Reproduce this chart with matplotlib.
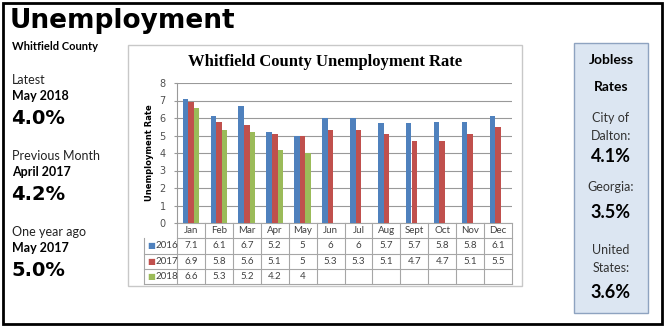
import matplotlib.pyplot as plt
from matplotlib.patches import Rectangle
from matplotlib.transforms import blended_transform_factory
import numpy as np

months = ['Jan', 'Feb', 'Mar', 'Apr', 'May', 'Jun', 'Jul', 'Aug', 'Sept', 'Oct', 'Nov', 'Dec']
years = ['2016', '2017', '2018']
rate_2016 = [7.1, 6.1, 6.7, 5.2, 5, 6, 6, 5.7, 5.7, 5.8, 5.8, 6.1]
rate_2017 = [6.9, 5.8, 5.6, 5.1, 5, 5.3, 5.3, 5.1, 4.7, 4.7, 5.1, 5.5]
rate_2018 = [6.6, 5.3, 5.2, 4.2, 4]
colors = ['#4f81bd', '#c0504d', '#9bbb59']

side_stats = [('Latest', 'May 2018', '4.0%'),
              ('Previous Month', 'April 2017', '4.2%'),
              ('One year ago', 'May 2017', '5.0%')]
jobless = [('City of\nDalton:', '4.1%'), ('Georgia:', '3.5%'), ('United\nStates:', '3.6%')]

W, H = 666, 327


def fx(x):
    return x / W


def fy(y):
    return 1 - y / H


fig = plt.figure(figsize=(W / 100, H / 100), dpi=100)
fig.patch.set_facecolor('white')

# outer frame
fig.patches.append(Rectangle((fx(3), fy(324)), fx(659), (321) / H, transform=fig.transFigure,
                             fill=False, edgecolor='black', linewidth=2))

# left column
fig.text(fx(10), fy(21), 'Unemployment', fontsize=19, fontweight='heavy', family='DejaVu Sans',
         va='center', ha='left')
fig.text(fx(12), fy(47), 'Whitfield County', fontsize=8, fontweight='bold', family='Lato',
         va='center', ha='left')
for i, (lab, period, val) in enumerate(side_stats):
    y0 = 80 + i * 76
    fig.text(fx(12), fy(y0), lab, fontsize=9, family='Lato', color='#222222', va='center')
    fig.text(fx(12), fy(y0 + 16), period, fontsize=9, fontweight='bold', family='Lato', va='center')
    fig.text(fx(11), fy(y0 + 38), val, fontsize=14, fontweight='bold', family='DejaVu Sans',
             va='center')

# chart frame
fig.patches.append(Rectangle((fx(128), fy(286)), fx(394), 241 / H, transform=fig.transFigure,
                             fill=False, edgecolor='#c8c8c8', linewidth=1))
fig.text(fx(325), fy(62), 'Whitfield County Unemployment Rate', fontsize=12, fontweight='bold',
         family='Liberation Serif', ha='center', va='center')

ax = fig.add_axes([fx(177), fy(223), fx(335), 140 / H])
x = np.arange(len(months))
bw = 0.2
series = [rate_2016, rate_2017, rate_2018]
for k, vals in enumerate(series):
    ax.bar(x[:len(vals)] + (k - 1) * bw, vals, width=bw, color=colors[k], zorder=3)

ax.set_xlim(-0.5, 11.5)
ax.set_ylim(0, 8)
ax.set_yticks(range(9))
ax.tick_params(axis='y', labelsize=7, labelcolor='#505050', length=2, color='#999999', pad=6)
ax.set_xticks([])
ax.grid(axis='y', color='#999999', linewidth=0.8, zorder=0)
for s in ['top', 'right', 'bottom']:
    ax.spines[s].set_visible(False)
ax.spines['left'].set_color('#999999')
ax.set_ylabel('Unemployment Rate', fontsize=6, fontweight='bold', labelpad=4)

# data table under the plot
tr = blended_transform_factory(ax.transData, ax.transAxes)
rh = 15.25 / 140
lc = '#a6a6a6'
tc = '#404040'
lab_w = 1.18
for r in range(5):
    y = -r * rh
    x0 = -0.5 if r <= 1 else -0.5 - lab_w
    ax.plot([x0, 11.5], [y, y], color=lc, lw=0.8, transform=tr, clip_on=False)
for c in range(13):
    ax.plot([c - 0.5, c - 0.5], [0, -4 * rh], color=lc, lw=0.8, transform=tr, clip_on=False)
ax.plot([-0.5 - lab_w] * 2, [-rh, -4 * rh], color=lc, lw=0.8, transform=tr, clip_on=False)
for i, m in enumerate(months):
    ax.text(i, -0.5 * rh, m, fontsize=7, color=tc, ha='center', va='center', transform=tr,
            family='Lato')
for k, vals in enumerate(series):
    yc = -(k + 1.5) * rh
    ax.text(-0.5 - lab_w + 0.1, yc, '\u25a0', fontsize=6, color=colors[k], ha='left', va='center',
            transform=tr)
    ax.text(-0.5 - lab_w + 0.42, yc, years[k], fontsize=7, color=tc, ha='left', va='center',
            transform=tr, family='Lato')
    for i, v in enumerate(vals):
        ax.text(i, yc, f'{v:g}', fontsize=7, color=tc, ha='center', va='center', transform=tr,
                family='Lato')

# jobless rates box
fig.patches.append(Rectangle((fx(574), fy(313)), fx(74), 270 / H, transform=fig.transFigure,
                             facecolor='#dce6f2', edgecolor='#8ea3c0', linewidth=1))
cx = fx(611)
fig.text(cx, fy(60), 'Jobless', fontsize=10, fontweight='bold', family='Lato', ha='center', va='center')
fig.text(cx, fy(87), 'Rates', fontsize=10, fontweight='bold', family='Lato', ha='center', va='center')
for (name, val), (yn, yv) in zip(jobless, [(127, 157), (187, 213), (259, 292)]):
    fig.text(cx, fy(yn), name, fontsize=9, family='Lato', color='#333333', ha='center', va='center',
             linespacing=1.55)
    fig.text(cx, fy(yv), val, fontsize=13, fontweight='bold', family='Lato', ha='center', va='center')

fig.savefig('out.png', dpi=100)
